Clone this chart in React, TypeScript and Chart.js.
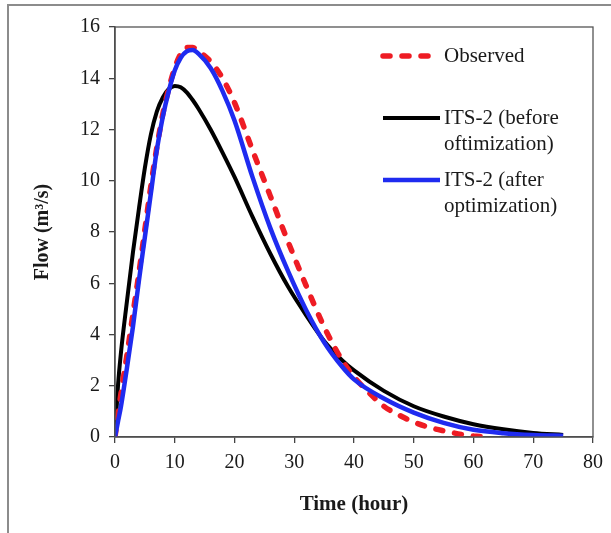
import React, { useEffect, useRef } from "react";
import { Chart, registerables } from "chart.js";

Chart.register(...registerables);

// ---- data ----
const timeObserved = [0, 1, 2, 3, 4, 5, 6, 7, 8, 9, 10, 11, 12, 13, 14, 16, 18, 20, 23, 26, 29, 32, 35, 38, 40, 42, 45, 48, 50, 53, 55, 58, 60, 62];
const flowObserved = [0, 1.7, 3.2, 4.8, 6.4, 8.1, 9.8, 11.3, 12.6, 13.6, 14.4, 14.95, 15.2, 15.2, 15.05, 14.65, 14.0, 13.05, 11.2, 9.4, 7.6, 5.9, 4.3, 3.0, 2.35, 1.85, 1.2, 0.8, 0.58, 0.35, 0.24, 0.1, 0.04, 0];

const timeModel = [0, 0.5, 1, 2, 3, 4, 5, 6, 7, 8, 9, 10, 11, 12, 13, 14, 16, 18, 20, 23, 26, 29, 32, 35, 38, 40, 45, 50, 55, 60, 65, 70, 75];
const flowBefore = [0, 2.0, 3.3, 5.3, 7.2, 8.9, 10.5, 11.8, 12.7, 13.25, 13.58, 13.7, 13.65, 13.45, 13.15, 12.8, 12.0, 11.1, 10.15, 8.6, 7.15, 5.85, 4.75, 3.75, 3.0, 2.6, 1.8, 1.2, 0.8, 0.5, 0.3, 0.16, 0.08];
const flowAfter = [0, 0.6, 1.2, 2.7, 4.3, 6.1, 7.8, 9.5, 11.2, 12.5, 13.5, 14.3, 14.8, 15.05, 15.1, 14.95, 14.4, 13.5, 12.35, 10.15, 8.15, 6.45, 4.95, 3.7, 2.75, 2.25, 1.5, 0.95, 0.55, 0.28, 0.15, 0.08, 0.05];

const seriesLabels: string[][] = [["Observed"], ["ITS-2 (before", "oftimization)"], ["ITS-2 (after", "optimization)"]];
const xTicks = [0, 10, 20, 30, 40, 50, 60, 70, 80];
const yTicks = [0, 2, 4, 6, 8, 10, 12, 14, 16];

const SERIF = "'Liberation Serif', 'Times New Roman', serif";

const framePlugin = {
  id: "frame",
  beforeDraw(chart: any) {
    const { ctx, width, height } = chart;
    ctx.save();
    ctx.fillStyle = "#ffffff";
    ctx.fillRect(0, 0, width, height);
    ctx.strokeStyle = "#8c8c8c";
    ctx.lineWidth = 2;
    ctx.beginPath();
    ctx.moveTo(8, height);
    ctx.lineTo(8, 5);
    ctx.lineTo(width, 5);
    ctx.stroke();
    ctx.restore();
  },
  afterDraw(chart: any) {
    const { ctx, chartArea } = chart;
    ctx.save();
    ctx.strokeStyle = "#555555";
    ctx.lineWidth = 1.3;
    ctx.strokeRect(chartArea.left, chartArea.top, chartArea.right - chartArea.left, chartArea.bottom - chartArea.top);
    ctx.restore();
  },
};

const legendPlugin = {
  id: "customLegend",
  afterDraw(chart: any) {
    const { ctx } = chart;
    const rows = [56, 118, 180];
    ctx.save();
    chart.data.datasets.forEach((ds: any, i: number) => {
      const y = rows[i];
      ctx.strokeStyle = ds.borderColor;
      ctx.lineWidth = ds.borderWidth;
      ctx.lineCap = ds.borderCapStyle || "butt";
      ctx.setLineDash(ds.borderDash || []);
      ctx.beginPath();
      ctx.moveTo(383, y);
      ctx.lineTo(440, y);
      ctx.stroke();
      ctx.setLineDash([]);
      ctx.fillStyle = "#1a1a1a";
      ctx.font = `21px ${SERIF}`;
      ctx.textBaseline = "middle";
      ctx.textAlign = "left";
      const lines = seriesLabels[i];
      lines.forEach((t, k) => ctx.fillText(t, 444, y + k * 26));
    });
    ctx.restore();
  },
};

export default function App() {
  const ref = useRef<HTMLCanvasElement | null>(null);
  useEffect(() => {
    if (!ref.current) return;
    const chart = new Chart(ref.current, {
      type: "line",
      data: {
        datasets: [
          {
            label: seriesLabels[0].join(" "),
            data: timeObserved.map((t, i) => ({ x: t, y: flowObserved[i] })),
            borderColor: "#ee1c24",
            borderWidth: 5.5,
            borderDash: [7, 12],
            borderCapStyle: "round",
            pointRadius: 0,
            cubicInterpolationMode: "monotone",
            order: 1,
          },
          {
            label: seriesLabels[1].join(" "),
            data: timeModel.map((t, i) => ({ x: t, y: flowBefore[i] })),
            borderColor: "#000000",
            borderWidth: 4,
            pointRadius: 0,
            cubicInterpolationMode: "monotone",
            order: 2,
          },
          {
            label: seriesLabels[2].join(" "),
            data: timeModel.map((t, i) => ({ x: t, y: flowAfter[i] })),
            borderColor: "#1f2bf0",
            borderWidth: 4.5,
            pointRadius: 0,
            cubicInterpolationMode: "monotone",
            order: 0,
          },
        ],
      } as any,
      options: {
        animation: false,
        responsive: false,
        layout: { padding: { top: 27, right: 15, left: 0, bottom: 0 } },
        plugins: { legend: { display: false }, tooltip: { enabled: false } },
        scales: {
          x: {
            type: "linear",
            min: 0,
            max: 80,
            afterFit: (s: any) => { s.height = 96; },
            afterBuildTicks: (s: any) => { s.ticks = xTicks.map((v) => ({ value: v })); },
            grid: { drawOnChartArea: false, tickLength: 6, color: "#444", lineWidth: 1.3 },
            border: { color: "#444", width: 1.5 },
            ticks: { color: "#1a1a1a", font: { family: SERIF, size: 20 }, padding: 8, maxRotation: 0 },
            title: { display: true, text: "Time (hour)", color: "#1a1a1a", font: { family: SERIF, size: 21, weight: "bold" }, padding: { top: 0, bottom: 16 } },
          },
          y: {
            type: "linear",
            min: 0,
            max: 16,
            afterFit: (s: any) => { s.width = 115; },
            afterBuildTicks: (s: any) => { s.ticks = yTicks.map((v) => ({ value: v })); },
            grid: { drawOnChartArea: false, tickLength: 6, color: "#444", lineWidth: 1.3 },
            border: { color: "#444", width: 1.5 },
            ticks: { color: "#1a1a1a", font: { family: SERIF, size: 20 }, padding: 9 },
            title: { display: true, text: "Flow (m³/s)", color: "#1a1a1a", font: { family: SERIF, size: 20, weight: "bold" }, padding: { top: 31, bottom: 0 } },
          },
        },
      } as any,
      plugins: [framePlugin, legendPlugin],
    });
    return () => chart.destroy();
  }, []);
  return (
    <div style={{ position: "fixed", left: 0, top: 0, width: 611, height: 533 }}>
      <canvas ref={ref} width={611} height={533} style={{ display: "block" }} />
    </div>
  );
}
